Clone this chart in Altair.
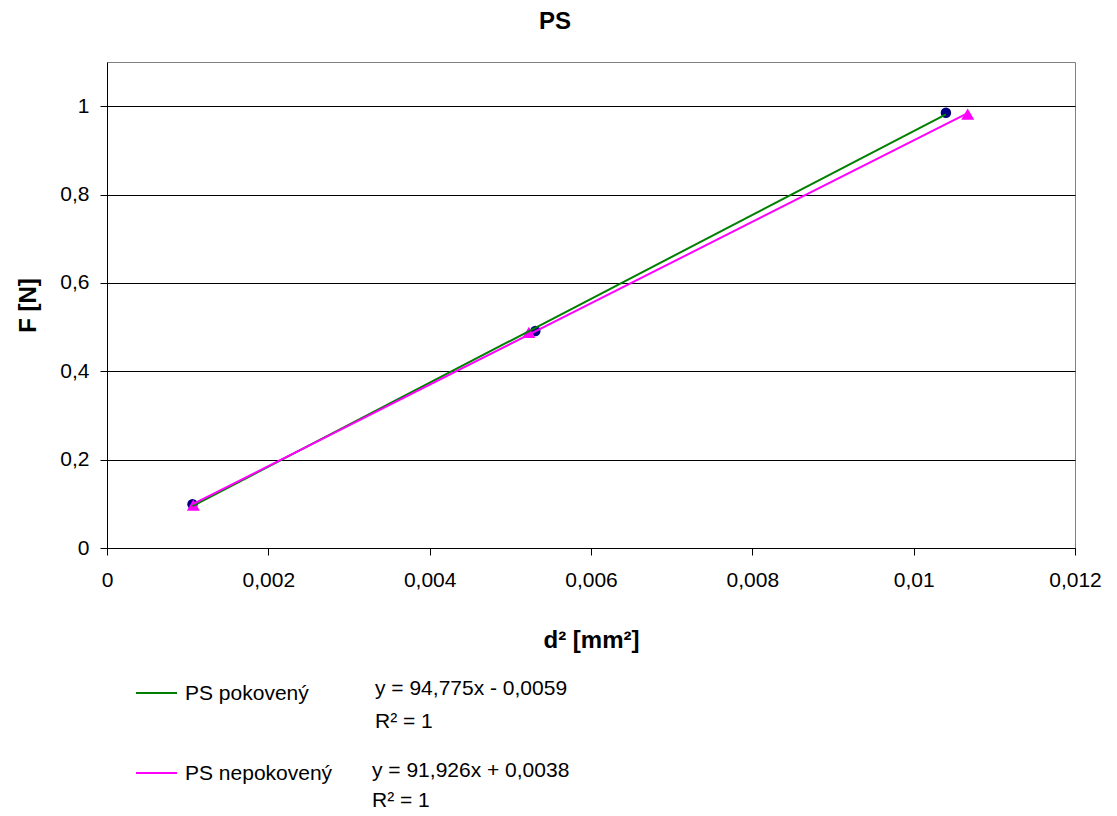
import altair as alt
import pandas as pd

# ---- data ----
series_names = ["PS pokovený", "PS nepokovený"]
x_pok = [0.00106, 0.00531, 0.01040]
y_pok = [0.099, 0.491, 0.985]
x_nep = [0.00107, 0.00523, 0.01067]
y_nep = [0.097, 0.488, 0.982]
equations = ["y = 94,775x - 0,0059", "y = 91,926x + 0,0038"]
r2_labels = ["R² = 1", "R² = 1"]
x_ticks = [0, 0.002, 0.004, 0.006, 0.008, 0.01, 0.012]
y_ticks = [0, 0.2, 0.4, 0.6, 0.8, 1.0]

FONT = "Liberation Sans"
GREEN = "#008000"
MAGENTA = "#FF00FF"
NAVY = "#000080"

df_pok = pd.DataFrame({"x": x_pok, "y": y_pok})
df_nep = pd.DataFrame({"x": x_nep, "y": y_nep})

x_enc = alt.X(
    "x:Q",
    scale=alt.Scale(domain=[0, 0.012], nice=False),
    axis=alt.Axis(
        values=x_ticks,
        labelExpr="replace(format(datum.value, '.3~f'), '.', ',')",
        labelFlush=False,
        title="d² [mm²]",
        titleFont=FONT, titleFontSize=24, titleFontWeight="bold",
        titleX=484, titleY=99, titleBaseline="alphabetic", titleAlign="center",
        labelFont=FONT, labelFontSize=21, labelColor="#000000",
        labelPadding=14, tickSize=7, tickColor="#000000",
        domainColor="#000000", grid=False,
    ),
)
y_enc = alt.Y(
    "y:Q",
    scale=alt.Scale(domain=[0, 1.1], nice=False),
    axis=alt.Axis(
        values=y_ticks,
        labelExpr="replace(format(datum.value, '.1~f'), '.', ',')",
        labelFlush=False,
        title="F [N]",
        titleFont=FONT, titleFontSize=24, titleFontWeight="bold",
        titleX=-79, titleY=243, titleAlign="center", titleBaseline="middle",
        titleAngle=270,
        labelFont=FONT, labelFontSize=21, labelColor="#000000",
        labelPadding=11, tickSize=7, tickColor="#000000",
        domainColor="#000000", grid=True, gridColor="#000000", gridWidth=1,
    ),
)

pts_pok = alt.Chart(df_pok).mark_point(
    shape="circle", filled=True, size=110, color=NAVY, opacity=1
).encode(x=x_enc, y=y_enc)

pts_nep = alt.Chart(df_nep).mark_point(
    shape="triangle-up", filled=True, size=170, color=MAGENTA, opacity=1
).encode(x="x:Q", y="y:Q")

trend_pok = alt.Chart(df_pok).transform_regression(
    "x", "y", method="linear"
).mark_line(color=GREEN, strokeWidth=2).encode(x="x:Q", y="y:Q")

trend_nep = alt.Chart(df_nep).transform_regression(
    "x", "y", method="linear"
).mark_line(color=MAGENTA, strokeWidth=2).encode(x="x:Q", y="y:Q")

# ---- legend / trendline labels below the plot ----
def text_layer(txt, x, y):
    return alt.Chart(pd.DataFrame({"t": [txt]})).mark_text(
        align="left", baseline="alphabetic", font=FONT, fontSize=21, color="#000000"
    ).encode(x=alt.value(x), y=alt.value(y), text="t:N")

def sample_line(color, y):
    return alt.Chart(pd.DataFrame({"t": [0]})).mark_rule(
        color=color, strokeWidth=2
    ).encode(x=alt.value(29), x2=alt.value(70), y=alt.value(y))

legend_layers = [
    sample_line(GREEN, 631),
    text_layer(series_names[0], 78, 638),
    text_layer(equations[0], 268, 633),
    text_layer(r2_labels[0], 268, 666),
    sample_line(MAGENTA, 711),
    text_layer(series_names[1], 78, 718),
    text_layer(equations[1], 265, 715),
    text_layer(r2_labels[1], 265, 745),
]

chart = alt.layer(
    pts_pok, pts_nep, trend_pok, trend_nep, *legend_layers
).properties(
    width=968,
    height=486,
    title=alt.TitleParams(
        "PS", font=FONT, fontSize=24, fontWeight="bold", color="#000000",
        anchor="middle", dx=-36, offset=9, baseline="alphabetic",
    ),
    autosize=alt.AutoSizeParams(type="none"),
    padding={"left": 107, "top": 62, "right": 42, "bottom": 268},
    background="#FFFFFF",
).configure_view(
    stroke="#808080", strokeWidth=1
)

chart.save("out.html", embed_options={"renderer": "svg", "actions": False})
